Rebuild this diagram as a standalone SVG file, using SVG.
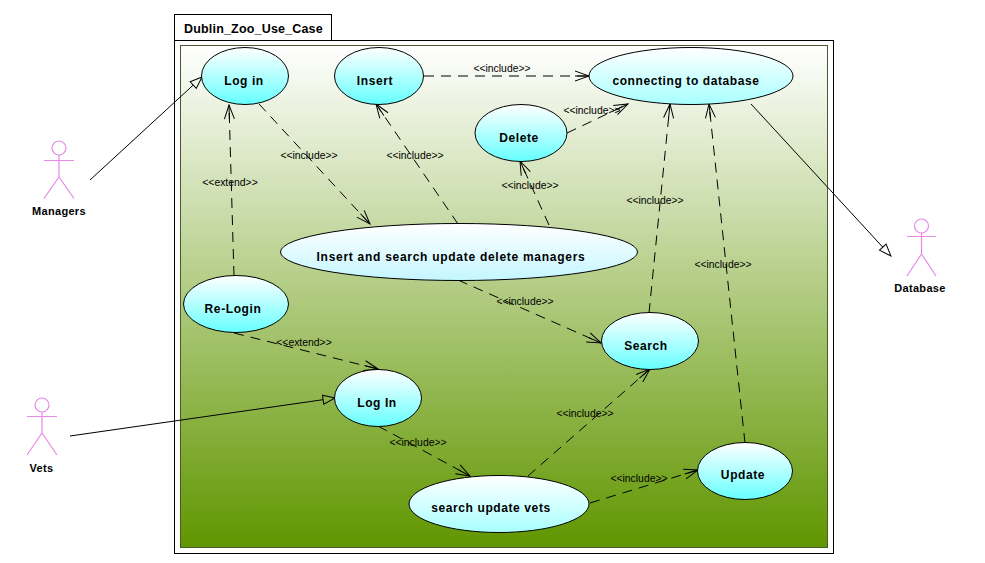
<svg xmlns="http://www.w3.org/2000/svg" width="985" height="563" viewBox="0 0 985 563">
<style>
text{font-family:"Liberation Sans",Arial,sans-serif;fill:#000}
.n{font-size:12px;font-weight:bold;text-anchor:middle;letter-spacing:.6px}
.a{font-size:11px;font-weight:bold;text-anchor:middle;letter-spacing:.3px}
.l{font-size:10.400px;text-anchor:middle}
.u{stroke:#000;stroke-width:1;fill:url(#uc)}
.u2{stroke:#000;stroke-width:1;fill:url(#uc2)}
.u3{stroke:#000;stroke-width:1;fill:url(#uc3)}
.ac{stroke:#e68ae6;stroke-width:1.2;fill:none}
.d{stroke:#000;stroke-width:1;fill:none;stroke-dasharray:10 7;marker-end:url(#open)}
.s{stroke:#000;stroke-width:1;fill:none;marker-end:url(#tri)}
</style>
<defs>
<linearGradient id="bg" x1="0" y1="0" x2="0" y2="1"><stop offset="0" stop-color="#ffffff"/><stop offset="1" stop-color="#609600"/></linearGradient>
<linearGradient id="uc" x1="0" y1="0" x2="0" y2="1"><stop offset="0" stop-color="#ffffff"/><stop offset="1" stop-color="#66ffff"/></linearGradient>
<linearGradient id="uc2" x1="0" y1="0" x2="0" y2="1"><stop offset="0" stop-color="#ffffff"/><stop offset="1" stop-color="#a8ffff"/></linearGradient>
<linearGradient id="uc3" x1="0" y1="0" x2="0" y2="1"><stop offset="0" stop-color="#ffffff"/><stop offset="1" stop-color="#c4f6ff"/></linearGradient>
<marker id="open" markerUnits="userSpaceOnUse" markerWidth="16" markerHeight="14" refX="15" refY="7" orient="auto"><path d="M1 2L15 7L1 12" fill="none" stroke="#000" stroke-width="1"/><path d="M1 7H15" stroke="#000" stroke-width="1"/></marker>
<marker id="tri" markerUnits="userSpaceOnUse" markerWidth="16" markerHeight="14" refX="1" refY="7" orient="auto"><path d="M1 2.500L13 7L1 11.500Z" fill="none" stroke="#000" stroke-width="1"/></marker>
</defs>
<rect width="985" height="563" fill="#fff"/>
<g id="frame">
<rect x="174.500" y="14.500" width="157" height="26" fill="#fff" stroke="#000"/>
<text x="184" y="33" font-size="12.500" font-weight="bold" letter-spacing=".18">Dublin_Zoo_Use_Case</text>
<rect x="174.500" y="40.500" width="659" height="513" fill="#fff" stroke="#000"/>
<rect x="180.500" y="45.500" width="647" height="502" fill="url(#bg)" stroke="#4a5a30"/>
</g>
<g id="connectors">
<path class="s" d="M90 180L193.200 85.100"/>
<path class="s" d="M751 104L882.800 247.200"/>
<path class="s" d="M70 436L323.100 399.700"/>
<path class="d" d="M234 276L229 105"/>
<path class="d" d="M259 104L370 224"/>
<path class="d" d="M424 76L589 76"/>
<path class="d" d="M567 133L628 104"/>
<path class="d" d="M458 224L376 104"/>
<path class="d" d="M549 225L520 161"/>
<path class="d" d="M649 313L670 104"/>
<path class="d" d="M458 280L601 343"/>
<path class="d" d="M234 333L378 369"/>
<path class="d" d="M378 426L470 476"/>
<path class="d" d="M528 476L650 369"/>
<path class="d" d="M590 503L698 470"/>
<path class="d" d="M745 443L709 104"/>
</g>
<g id="labels">
<text class="l" x="230" y="186">&lt;&lt;extend&gt;&gt;</text>
<text class="l" x="309" y="159">&lt;&lt;include&gt;&gt;</text>
<text class="l" x="502" y="72">&lt;&lt;include&gt;&gt;</text>
<text class="l" x="592" y="114">&lt;&lt;include&gt;&gt;</text>
<text class="l" x="415" y="159">&lt;&lt;include&gt;&gt;</text>
<text class="l" x="530" y="189">&lt;&lt;include&gt;&gt;</text>
<text class="l" x="655" y="204">&lt;&lt;include&gt;&gt;</text>
<text class="l" x="723" y="268">&lt;&lt;include&gt;&gt;</text>
<text class="l" x="525" y="305">&lt;&lt;include&gt;&gt;</text>
<text class="l" x="304" y="346">&lt;&lt;extend&gt;&gt;</text>
<text class="l" x="418" y="446">&lt;&lt;include&gt;&gt;</text>
<text class="l" x="585" y="417">&lt;&lt;include&gt;&gt;</text>
<text class="l" x="639" y="482">&lt;&lt;include&gt;&gt;</text>
</g>
<g id="login"><ellipse class="u" cx="245" cy="76" rx="43.500" ry="28.500"/><text class="n" x="244" y="85">Log in</text></g>
<g id="insert"><ellipse class="u" cx="379" cy="76" rx="44.500" ry="28.500"/><text class="n" x="375" y="85">Insert</text></g>
<g id="db"><ellipse class="u2" cx="691" cy="76" rx="102" ry="28.500"/><text class="n" x="686" y="85">connecting to database</text></g>
<g id="delete"><ellipse class="u" cx="521" cy="133" rx="46" ry="28.500"/><text class="n" x="519" y="142">Delete</text></g>
<g id="managers-uc"><ellipse class="u3" cx="459" cy="252" rx="178.500" ry="28.500"/><text class="n" x="451" y="261" style="letter-spacing:.72px">Insert and search update delete managers</text></g>
<g id="relogin"><ellipse class="u" cx="236" cy="304" rx="52.500" ry="28.500"/><text class="n" x="233" y="313">Re-Login</text></g>
<g id="search"><ellipse class="u" cx="650" cy="341" rx="48.500" ry="28.500"/><text class="n" x="646" y="350">Search</text></g>
<g id="vlogin"><ellipse class="u" cx="378" cy="398" rx="43.500" ry="28.500"/><text class="n" x="377" y="407">Log In</text></g>
<g id="update"><ellipse class="u" cx="745" cy="471" rx="47.500" ry="28.500"/><text class="n" x="743" y="479">Update</text></g>
<g id="vets-uc"><ellipse class="u2" cx="499" cy="504" rx="90" ry="28.500"/><text class="n" x="491" y="512">search update vets</text></g>
<g id="managers"><circle class="ac" cx="59" cy="148" r="7"/><path class="ac" d="M44 160.500H74M59 155V177M44 198.500L59 177L74 198.500"/><text class="a" x="59" y="215">Managers</text></g>
<g id="database"><circle class="ac" cx="921.500" cy="226" r="7"/><path class="ac" d="M907 236.500H936M921.500 233V254M907 276L921.500 254L936 276"/><text class="a" x="920" y="292">Database</text></g>
<g id="vets"><circle class="ac" cx="42" cy="405" r="7"/><path class="ac" d="M27 416.500H57M42 412V433M27 455L42 433L57 455"/><text class="a" x="41.500" y="472">Vets</text></g>
</svg>
